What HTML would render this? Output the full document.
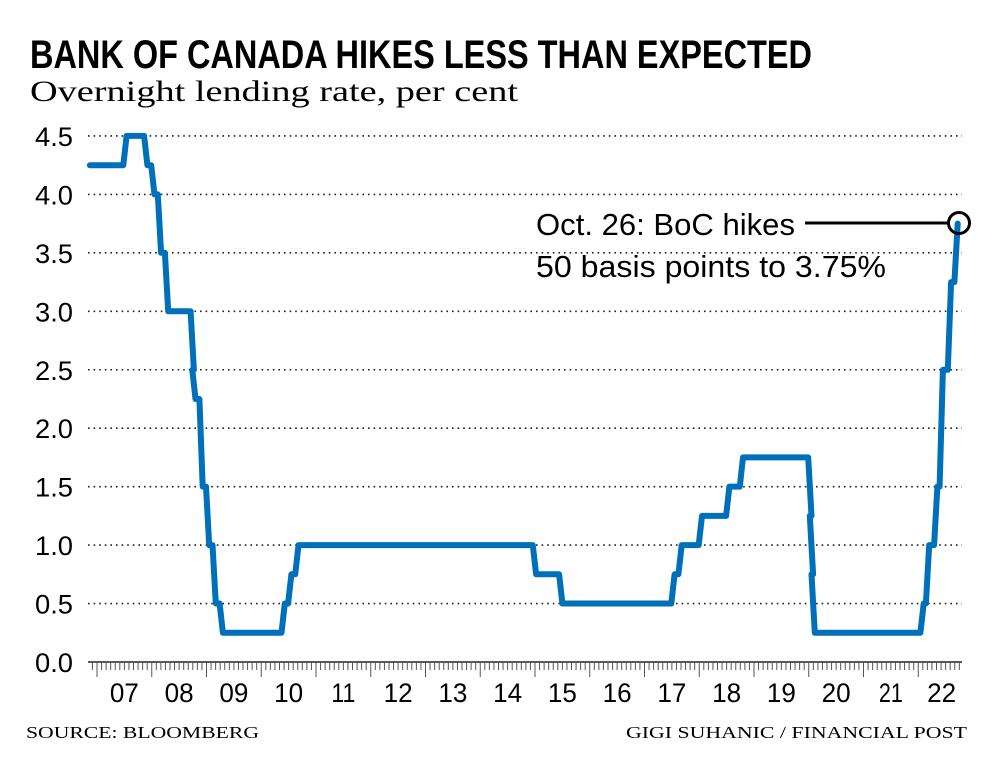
<!DOCTYPE html>
<html><head><meta charset="utf-8"><style>
html,body{margin:0;padding:0;background:#fff;width:1000px;height:763px;overflow:hidden}
svg{display:block}
</style></head><body>
<svg id="s" width="1000" height="763" xmlns="http://www.w3.org/2000/svg">
<text x="30" y="68" font-family="Liberation Sans, sans-serif" font-weight="bold" font-size="40" textLength="782" lengthAdjust="spacingAndGlyphs" fill="#000">BANK OF CANADA HIKES LESS THAN EXPECTED</text>
<text x="30" y="101" font-family="Liberation Serif, serif" font-size="30" textLength="488" lengthAdjust="spacingAndGlyphs" fill="#000">Overnight lending rate, per cent</text>
<g id="grid"></g>
<g id="ticks"></g>
<polyline id="line" fill="none" stroke="#0070bb" stroke-width="6" stroke-linejoin="round" stroke-linecap="round"/>
<line x1="805" y1="223" x2="948" y2="223" stroke="#000" stroke-width="3"/>
<circle cx="959" cy="223" r="10.5" fill="none" stroke="#000" stroke-width="3"/>
<text x="536" y="235" font-family="Liberation Sans, sans-serif" font-size="31" textLength="259" lengthAdjust="spacingAndGlyphs">Oct. 26: BoC hikes</text>
<text x="536" y="277" font-family="Liberation Sans, sans-serif" font-size="31" textLength="350" lengthAdjust="spacingAndGlyphs">50 basis points to 3.75%</text>
<text x="26" y="738" font-family="Liberation Serif, serif" font-size="17" textLength="233" lengthAdjust="spacingAndGlyphs">SOURCE: BLOOMBERG</text>
<text x="626" y="738" font-family="Liberation Serif, serif" font-size="17" textLength="341" lengthAdjust="spacingAndGlyphs">GIGI SUHANIC / FINANCIAL POST</text>
</svg>
<script>
var NS="http://www.w3.org/2000/svg";
function X(t){return 97+(t-2007)*54.75}
function Y(v){return 662-v*116.9}
function el(p,n,a,txt){var e=document.createElementNS(NS,n);for(var k in a)e.setAttribute(k,a[k]);if(txt)e.textContent=txt;document.getElementById(p).appendChild(e);return e}
for(var i=0;i<=9;i++){var v=i*0.5,y=Y(v);
 if(i>0)el("grid","line",{x1:88,x2:962,y1:y,y2:y,stroke:"#222","stroke-width":1.6,"stroke-dasharray":"1.6 4"});
 el("grid","text",{x:73,y:y+10,"text-anchor":"end","font-family":"Liberation Sans, sans-serif","font-size":27,textLength:38,lengthAdjust:"spacingAndGlyphs"},v.toFixed(1));}
el("ticks","line",{x1:88,x2:962,y1:662,y2:662,stroke:"#222","stroke-width":1.6});
for(var m=-3;m<=191;m++){var x=X(2007+m/12);if(x<88||x>962)continue;var maj=(m%12===0);
 el("ticks","line",{x1:x,x2:x,y1:662,y2:maj?677:670,stroke:"#555","stroke-width":1});}
for(var yr=2007;yr<=2022;yr++){el("ticks","text",{x:X(yr+0.5)+(yr==2022?-4:0),y:702,"text-anchor":"middle","font-family":"Liberation Sans, sans-serif","font-size":27,textLength:yr==2011||yr==2021?24:29,lengthAdjust:"spacingAndGlyphs"},String(yr).slice(2));}
var steps=[[2007.54,4.5],[2007.92,4.25],[2008.05,4.0],[2008.17,3.5],[2008.3,3.0],[2008.77,2.5],[2008.8,2.25],[2008.93,1.5],[2009.05,1.0],[2009.17,0.5],[2009.3,0.25],[2010.43,0.5],[2010.55,0.75],[2010.68,1.0],[2015.02,0.75],[2015.5,0.5],[2017.55,0.75],[2017.68,1.0],[2018.05,1.25],[2018.55,1.5],[2018.8,1.75],[2020.05,1.25],[2020.08,0.75],[2020.11,0.25],[2022.1,0.5],[2022.2,1.0],[2022.35,1.5],[2022.45,2.5],[2022.6,3.25],[2022.72,3.75]];
var pts=[[2006.87,4.25]],cur=4.25;
steps.forEach(function(s){pts.push([s[0]-0.06,cur]);pts.push([s[0],s[1]]);cur=s[1];});
document.getElementById("line").setAttribute("points",pts.map(function(p){return X(p[0]).toFixed(1)+","+Y(p[1]).toFixed(1)}).join(" "));
</script>
</body></html>
